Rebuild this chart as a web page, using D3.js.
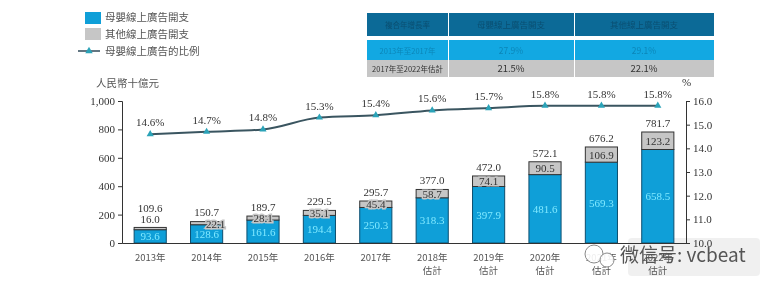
<!DOCTYPE html>
<html><head><meta charset="utf-8">
<script src="https://cdn.jsdelivr.net/npm/d3@7"></script>
<style>
html,body{margin:0;padding:0;background:#fff;}
svg{display:block;filter:blur(0.35px);}
text{font-family:"Noto Sans CJK TC","Liberation Serif",serif;fill:#333;}
.num{font-family:"Liberation Serif",serif;font-size:11px;}
</style></head><body>
<svg id="c" width="771" height="288"></svg>
<script>
const years=["2013年","2014年","2015年","2016年","2017年","2018年|估計","2019年|估計","2020年|估計","2021年|估計","2022年|估計"];
const maternal=[93.6,128.6,161.6,194.4,250.3,318.3,397.9,481.6,569.3,658.5];
const other=[16.0,22.1,28.1,35.1,45.4,58.7,74.1,90.5,106.9,123.2];
const totals=[109.6,150.7,189.7,229.5,295.7,377.0,472.0,572.1,676.2,781.7];
const share=[14.6,14.7,14.8,15.3,15.4,15.6,15.7,15.8,15.8,15.8];
const leftTicks=[0,200,400,600,800,1000];
const rightTicks=[10,11,12,13,14,15,16];
const legendLabels=["母嬰線上廣告開支","其他線上廣告開支","母嬰線上廣告的比例"];
const tableHead=["複合年增長率","母嬰線上廣告開支","其他線上廣告開支"];
const tableRow1=["2013年至2017年","27.9%","29.1%"];
const tableRow2=["2017年至2022年估計","21.5%","22.1%"];

const svg=d3.select("#c");
const blue="#0f9fd8",grey="#c6c6c6",dark="#0c6a97";
const x=d3.scaleBand().domain(years).range([122,686]).paddingInner(0.43).paddingOuter(0.215);
const y=d3.scaleLinear().domain([0,1000]).range([243,101]);
const yR=d3.scaleLinear().domain([10,16]).range([243,101]);
const cx=d=>x(d)+x.bandwidth()/2;

// table
const cols=[367,448,574,714];
const rows=[[13,36,dark,tableHead,"#0a4f72",8.5],[40,60,"#12a8e2",tableRow1,"#0b86b8",8.5],[60,77,grey,tableRow2,"#333",9.5]];
rows.forEach(r=>{
  r[3].forEach((t,i)=>{
    svg.append("rect").attr("x",cols[i]+(i?1:0)).attr("y",r[0]).attr("width",cols[i+1]-cols[i]-(i?1:0)).attr("height",r[1]-r[0]).attr("fill",r[2]);
    svg.append("text").attr("x",(cols[i]+cols[i+1])/2).attr("y",(r[0]+r[1])/2+3.5).attr("text-anchor","middle")
      .style("font-size",(i==0?7.5:r[5])+"px").style("fill",r[4]).text(t);
  });
});

// legend
const lg=svg.append("g");
[[blue,18],[grey,34]].forEach(([c,yy])=>lg.append("rect").attr("x",85).attr("y",yy-6).attr("width",16).attr("height",12).attr("fill",c));
lg.append("line").attr("x1",78).attr("x2",100).attr("y1",51).attr("y2",51).attr("stroke","#2f4a5a").attr("stroke-width",1.5);
lg.append("path").attr("transform","translate(89,51)").attr("d",d3.symbol(d3.symbolTriangle,24)).attr("fill","#2ba3b8");
legendLabels.forEach((t,i)=>lg.append("text").attr("x",105).attr("y",[21,38,55][i]).style("font-size","10.5px").style("fill","#555").text(t));
svg.append("text").attr("x",96).attr("y",87).style("font-size","10.5px").style("fill","#555").text("人民幣十億元");
svg.append("text").attr("class","num").attr("x",682).attr("y",86).text("%");

// watermark backdrop
svg.append("rect").attr("x",628).attr("y",238).attr("width",132).attr("height",38).attr("rx",4).attr("fill","#e4e4e4").attr("opacity",0.55);

// bars
const g=svg.append("g");
g.selectAll(".m").data(years).join("rect").attr("x",d=>x(d)).attr("width",x.bandwidth())
 .attr("y",(d,i)=>y(maternal[i])).attr("height",(d,i)=>y(0)-y(maternal[i])).attr("fill",blue).attr("stroke","#0d4f70").attr("stroke-width",1);
g.selectAll(".o").data(years).join("rect").attr("x",d=>x(d)).attr("width",x.bandwidth())
 .attr("y",(d,i)=>y(maternal[i]+other[i])).attr("height",(d,i)=>y(maternal[i])-y(maternal[i]+other[i])).attr("fill",grey).attr("stroke","#333").attr("stroke-width",1);

const label=(arr,fn,cls,col)=>g.selectAll("."+cls).data(years).join("text").attr("class","num "+cls).attr("x",cx)
  .attr("y",fn).attr("text-anchor","middle").style("fill",col).text((d,i)=>arr[i].toFixed(1));
label(maternal,(d,i)=>y(maternal[i]/2)+4,"lm","#7fe8ff");
label(other,(d,i)=>i==0?y(maternal[i]+other[i])-4:i==1?y(maternal[i]+other[i])+6:y(maternal[i]+other[i]/2)+4,"lo","#333");
g.selectAll(".lo").filter((d,i)=>i>0).style("paint-order","stroke").style("stroke",grey).style("stroke-width","3px");
g.selectAll(".lo").filter((d,i)=>i==1).attr("dx",9);
label(totals,(d,i)=>i==0?y(totals[i])-15:i==1?y(totals[i])-6:y(totals[i])-5,"lt","#333");

// axes
const xa=svg.append("g").attr("transform","translate(0,243)").call(d3.axisBottom(x).tickSize(0).tickFormat(""));
xa.select(".domain").attr("stroke","#333");
const yl=svg.append("g").attr("transform","translate(122,0)").call(d3.axisLeft(y).tickValues(leftTicks).tickSize(4).tickFormat(d3.format(",")));
const yr=svg.append("g").attr("transform","translate(686,0)").call(d3.axisRight(yR).tickValues(rightTicks).tickSize(4).tickFormat(d3.format(".1f")));
[yl,yr].forEach(a=>{a.selectAll("path,line").attr("stroke","#333");a.selectAll("text").attr("class","num").style("fill","#333");});
years.forEach(d=>{
  d.split("|").forEach((t,j)=>svg.append("text").attr("x",cx(d)).attr("y",261+j*13).attr("text-anchor","middle").style("font-size","9.5px").style("fill","#555").text(t));
});

// line
const line=d3.line().x(d=>cx(d)).y((d,i)=>yR(share[i])).curve(d3.curveMonotoneX);
svg.append("path").datum(years).attr("d",line).attr("fill","none").attr("stroke","#3a5560").attr("stroke-width",2);
svg.selectAll(".pt").data(years).join("path").attr("transform",(d,i)=>`translate(${cx(d)},${yR(share[i])})`).attr("d",d3.symbol(d3.symbolTriangle,22)).attr("fill","#2ba3b8");
svg.selectAll(".pl").data(years).join("text").attr("class","num").attr("x",cx).attr("y",(d,i)=>yR(share[i])-8).attr("text-anchor","middle").text((d,i)=>share[i].toFixed(1)+"%");

// watermark
svg.append("circle").attr("cx",594).attr("cy",254).attr("r",9).attr("fill","#fff").attr("fill-opacity",0.9).attr("stroke","#888");
svg.append("circle").attr("cx",607).attr("cy",260).attr("r",7).attr("fill","#fff").attr("fill-opacity",0.9).attr("stroke","#888");
svg.append("text").attr("x",620).attr("y",262).style("font-size","19px").style("font-family","'Noto Sans CJK SC',sans-serif").style("fill","#555").text("微信号: vcbeat");
</script></body></html>
